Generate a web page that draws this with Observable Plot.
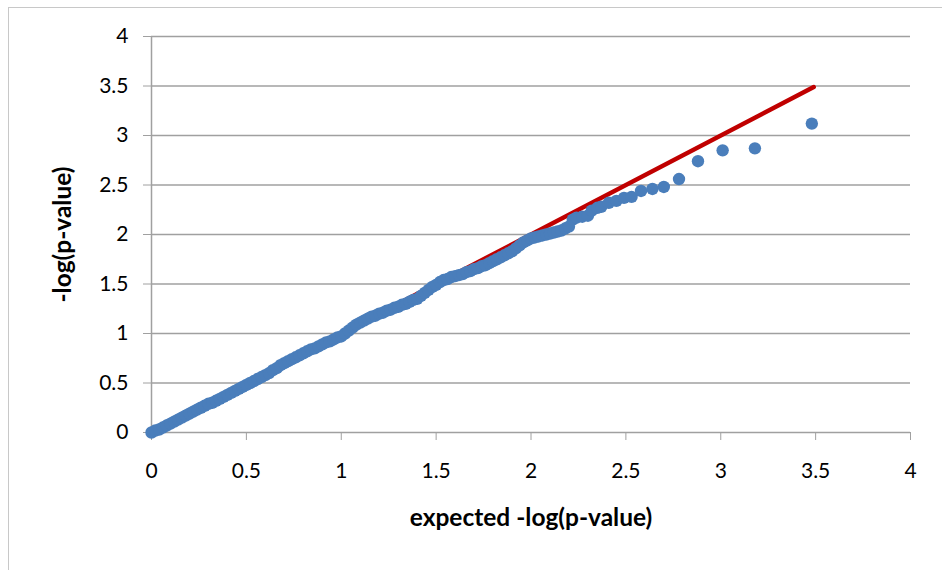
<!DOCTYPE html>
<html><head><meta charset="utf-8">
<script src="https://cdn.jsdelivr.net/npm/d3@7"></script>
<script src="https://cdn.jsdelivr.net/npm/@observablehq/plot@0.6"></script>
<style>
html,body{margin:0;padding:0;background:#fff;overflow:hidden;width:942px;height:570px;}
#frame{position:absolute;left:8px;top:7px;width:1000px;height:700px;border:1.5px solid #c8c8c8;}
#chart{position:absolute;left:0;top:0;}
</style></head><body><div id="frame"></div><div id="chart"></div>
<script>
const expected = [
0.00,0.02,0.04,0.06,0.08,0.10,0.12,0.14,0.16,0.18,
0.20,0.22,0.24,0.26,0.28,0.30,0.32,0.34,0.36,0.38,
0.40,0.42,0.44,0.46,0.48,0.50,0.52,0.54,0.56,0.58,
0.60,0.62,0.64,0.66,0.68,0.70,0.72,0.74,0.76,0.78,
0.80,0.82,0.84,0.86,0.88,0.90,0.92,0.94,0.96,0.98,
1.00,1.02,1.04,1.06,1.08,1.10,1.12,1.14,1.16,1.18,
1.20,1.22,1.24,1.26,1.28,1.30,1.32,1.34,1.36,1.38,
1.40,1.42,1.44,1.46,1.48,1.50,1.52,1.54,1.56,1.58,
1.60,1.62,1.64,1.66,1.68,1.70,1.72,1.74,1.76,1.78,
1.80,1.82,1.84,1.86,1.88,1.90,1.92,1.94,1.96,1.98,
2.00,2.02,2.04,2.06,2.08,2.10,2.12,2.14,2.16,2.18,
2.20,2.22,2.24,2.27,2.30,2.32,2.35,2.37,2.41,2.45,
2.49,2.53,2.58,2.64,2.70,2.78,2.88,3.01,3.18,3.48
];
const observed = [
0.00,0.02,0.03,0.05,0.07,0.09,0.11,0.13,0.15,0.17,
0.19,0.21,0.23,0.25,0.27,0.29,0.30,0.32,0.34,0.36,
0.38,0.40,0.42,0.44,0.46,0.48,0.50,0.52,0.54,0.56,
0.58,0.60,0.63,0.65,0.68,0.70,0.72,0.74,0.76,0.78,
0.80,0.82,0.84,0.85,0.87,0.89,0.91,0.92,0.94,0.96,
0.97,1.00,1.03,1.06,1.09,1.11,1.13,1.15,1.17,1.18,
1.20,1.21,1.23,1.24,1.26,1.27,1.29,1.30,1.32,1.34,
1.35,1.38,1.41,1.44,1.47,1.49,1.52,1.54,1.55,1.57,
1.58,1.59,1.60,1.62,1.63,1.65,1.66,1.68,1.69,1.71,
1.73,1.75,1.77,1.79,1.81,1.83,1.86,1.89,1.92,1.94,
1.96,1.97,1.98,1.99,2.00,2.01,2.02,2.03,2.04,2.06,
2.08,2.15,2.17,2.18,2.19,2.24,2.27,2.28,2.32,2.34,
2.37,2.38,2.44,2.46,2.48,2.56,2.74,2.85,2.87,3.12
];
const refLine = [0, 3.49];
const xTicks = [0, 0.5, 1, 1.5, 2, 2.5, 3, 3.5, 4];
const yTicks = [0, 0.5, 1, 1.5, 2, 2.5, 3, 3.5, 4];
const xTitle = "expected -log(p-value)";
const yTitle = "-log(p-value)";

const points = expected.map((e, i) => ({e, o: observed[i]}));
const line = refLine.map(v => ({v}));

const plot = Plot.plot({
  width: 942, height: 570,
  marginLeft: 151, marginRight: 32, marginTop: 36, marginBottom: 138,
  style: {fontFamily: "Lato, 'Open Sans', sans-serif", fontSize: "21px", color: "#000", background: "transparent", overflow: "visible"},
  x: {domain: [0, 4]},
  y: {domain: [0, 4]},
  marks: [
    Plot.ruleY(yTicks, {stroke: "#a0a0a0", strokeWidth: 1.5}),
    Plot.ruleX([0], {y1: 0, y2: 4, stroke: "#a0a0a0", strokeWidth: 1.5}),
    Plot.axisY({ticks: yTicks, tickSize: 8, tickPadding: 15, label: null, stroke: "#a0a0a0", fill: "#000", fontSize: 21, tickFormat: d => String(d)}),
    Plot.axisX({ticks: xTicks, tickSize: 8, tickPadding: 23, label: null, stroke: "#a0a0a0", fill: "#000", fontSize: 21, tickFormat: d => String(d)}),
    Plot.line(line, {x: "v", y: "v", stroke: "#c00000", strokeWidth: 4.5}),
    Plot.dot(points, {x: "e", y: "o", r: 6.2, fill: "#4a7ebb"}),
    Plot.text([xTitle], {frameAnchor: "bottom", dy: 93, fontWeight: "bold", fontSize: 24.5, fill: "#000"}),
    Plot.text([yTitle], {frameAnchor: "left", textAnchor: "middle", dx: -88, rotate: -90, fontWeight: "bold", fontSize: 24.5, fill: "#000"})
  ]
});
document.getElementById("chart").appendChild(plot);
</script>
</body></html>
